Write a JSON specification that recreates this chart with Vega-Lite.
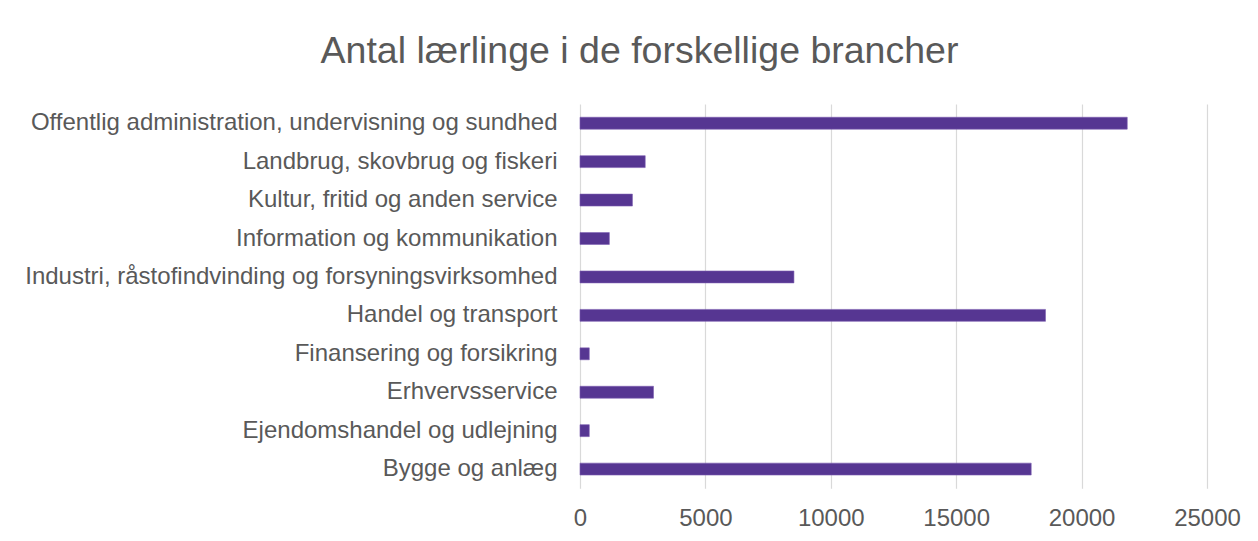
{
  "$schema": "https://vega.github.io/schema/vega-lite/v6.json",
  "autosize": {"type": "none"},
  "width": 627,
  "height": 384.3,
  "padding": {"left": 580, "top": 104, "right": 51, "bottom": 52.7},
  "background": "#ffffff",
  "title": {
    "text": "Antal lærlinge i de forskellige brancher",
    "anchor": "middle",
    "frame": "group",
    "dx": -254,
    "offset": 34,
    "font": "Liberation Sans",
    "fontSize": 37.5,
    "fontWeight": "normal",
    "color": "#595959"
  },
  "data": {
    "values": [
      {"branche": "Offentlig administration, undervisning og sundhed", "antal": 21820},
      {"branche": "Landbrug, skovbrug og fiskeri", "antal": 2600},
      {"branche": "Kultur, fritid og anden service", "antal": 2090},
      {"branche": "Information og kommunikation", "antal": 1170},
      {"branche": "Industri, råstofindvinding og forsyningsvirksomhed", "antal": 8530},
      {"branche": "Handel og transport", "antal": 18560},
      {"branche": "Finansering og forsikring", "antal": 370},
      {"branche": "Erhvervsservice", "antal": 2930},
      {"branche": "Ejendomshandel og udlejning", "antal": 370},
      {"branche": "Bygge og anlæg", "antal": 17990}
    ]
  },
  "mark": {"type": "bar", "color": "#563692", "stroke": "#7a5db0", "strokeWidth": 0.6},
  "encoding": {
    "y": {
      "field": "branche",
      "type": "nominal",
      "sort": null,
      "title": null,
      "scale": {"paddingInner": 0.69, "paddingOuter": 0.345},
      "axis": {
        "domain": false,
        "ticks": false,
        "grid": false,
        "labelFont": "Liberation Sans",
        "labelFontSize": 24,
        "labelColor": "#595959",
        "labelPadding": 23,
        "labelLimit": 800
      }
    },
    "x": {
      "field": "antal",
      "type": "quantitative",
      "title": null,
      "scale": {"domain": [0, 25000], "nice": false},
      "axis": {
        "values": [0, 5000, 10000, 15000, 20000, 25000],
        "format": "d",
        "domain": false,
        "ticks": false,
        "grid": true,
        "gridColor": "#d9d9d9",
        "gridWidth": 1.2,
        "labelFont": "Liberation Sans",
        "labelFontSize": 24,
        "labelColor": "#595959",
        "labelPadding": 18,
        "labelFlush": false
      }
    }
  },
  "config": {"view": {"stroke": null}}
}
